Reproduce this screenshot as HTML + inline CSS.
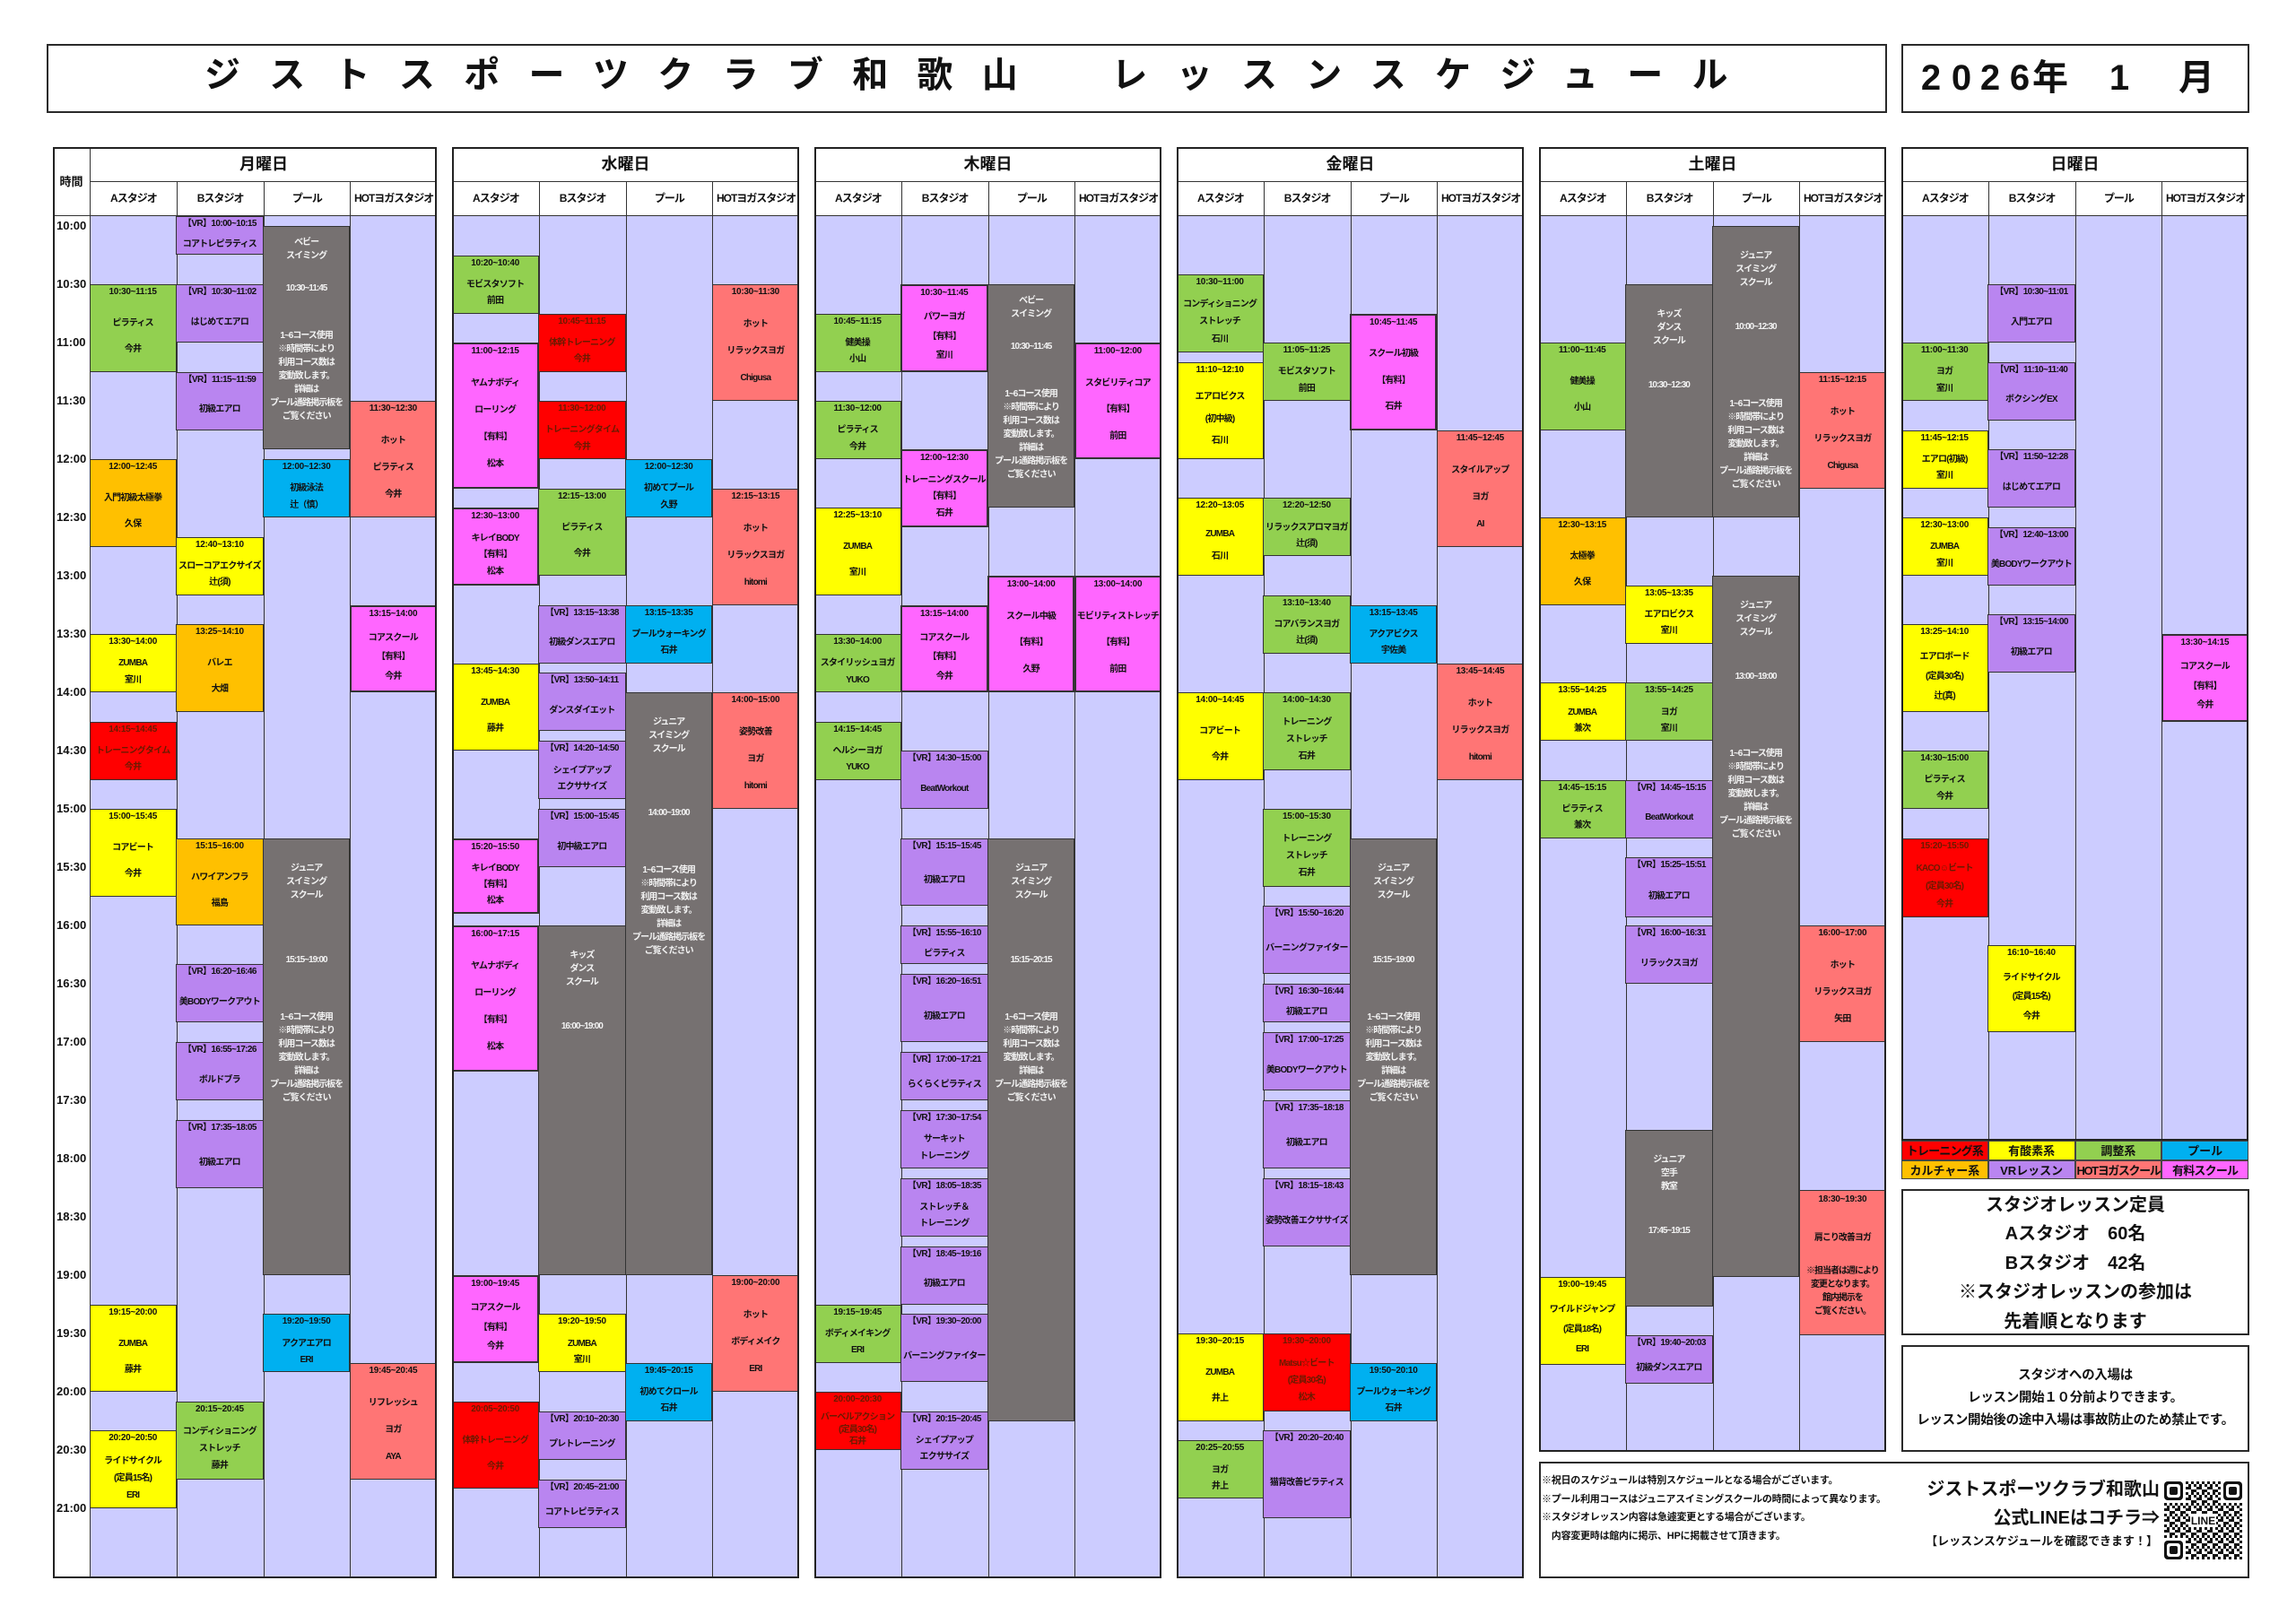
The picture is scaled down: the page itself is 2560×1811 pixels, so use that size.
<!DOCTYPE html>
<html lang="ja">
<head>
<meta charset="utf-8">
<style>
*{box-sizing:border-box}
html,body{margin:0;padding:0}
body{width:2560px;height:1811px;position:relative;overflow:hidden;background:#fff;font-family:"Liberation Sans","Noto Sans CJK JP",sans-serif;font-weight:bold;color:#111}
.abs{position:absolute}
.box{position:absolute;border:2px solid #2a2a2a;background:#fff}
.title{position:absolute;left:228px;top:46px;height:77px;line-height:77px;font-size:40px;letter-spacing:32.3px;white-space:nowrap}
.dc{position:absolute;top:62px;width:40px;text-align:center;font-size:40px;line-height:50px}
.day{position:absolute;top:164px}
.dn{position:absolute;top:0;height:39px;line-height:38px;text-align:center;font-size:18px;border-bottom:1.5px solid #333;background:#fff}
.sh{position:absolute;top:39px;width:96.75px;height:38px;line-height:37px;text-align:center;font-size:12px;letter-spacing:-1px;border-left:1.5px solid #333;border-bottom:1.5px solid #333;background:#fff;white-space:nowrap}
.c{position:absolute;top:77px;bottom:0;width:96.75px;background:#ccccff;border-left:1.5px solid #333}
.fr{position:absolute;left:0;top:0;right:0;bottom:0;border:2px solid #222;pointer-events:none}
.b{position:absolute;left:-1.5px;right:0;top:calc(var(--s) * 2.1667px + 11px);height:calc((var(--e) - var(--s)) * 2.1667px);border:1.5px solid #333;display:flex;flex-direction:column;align-items:center;overflow:hidden;font-size:10px;line-height:12px}
.b i{font-style:normal;padding-top:2px;letter-spacing:-0.3px;white-space:nowrap}
.b i.v{letter-spacing:-0.6px}
.b p{margin:0;flex:1;display:flex;flex-direction:column;justify-content:space-evenly;align-items:center;padding-top:6px;width:100%}
.b span{letter-spacing:-0.8px;white-space:nowrap}
.gl{position:absolute;left:0;right:0;text-align:center;line-height:15px;letter-spacing:-1px;white-space:nowrap}
.gr{background:#92d050}.ye{background:#ffff00}.or{background:#ffc000}.rd{background:#ff0000;color:#6a1a00}
.bl{background:#00b0f0}.sa{background:#ff7575}.mg{background:#ff66ff;border-width:2px}.pu{background:#b985f0}
.gy{background:#767171;color:#f2f2f2}
.tl{position:absolute;left:4px;font-family:"Liberation Sans",sans-serif;font-size:13px;line-height:16px}
.lg{position:absolute;height:21.5px;width:96.75px;line-height:21.5px;text-align:center;font-size:13px;border:1px solid #444;white-space:nowrap}
</style>
</head>
<body>

<!-- Title -->
<div class="box" style="left:52px;top:49px;width:2052px;height:77px"></div>
<div class="title">ジストスポーツクラブ和歌山　レッスンスケジュール</div>
<div class="box" style="left:2120px;top:49px;width:388px;height:77px"></div>
<div class="dc" style="left:2133px">2</div>
<div class="dc" style="left:2167px">0</div>
<div class="dc" style="left:2199px">2</div>
<div class="dc" style="left:2232px">6</div>
<div class="dc" style="left:2266px">年</div>
<div class="dc" style="left:2343px">1</div>
<div class="dc" style="left:2429px">月</div>

<!-- ============ MONDAY ============ -->
<div class="day" style="left:59px;width:428px;height:1596px">
  <div class="abs" style="left:0;top:0;width:41px;height:77px;line-height:77px;text-align:center;font-size:13px;border-bottom:1.5px solid #333;background:#fff">時間</div>
  <div class="dn" style="left:41px;width:387px;border-left:1.5px solid #333">月曜日</div>
  <div class="sh" style="left:41px">Aスタジオ</div>
  <div class="sh" style="left:137.75px">Bスタジオ</div>
  <div class="sh" style="left:234.5px">プール</div>
  <div class="sh" style="left:331.25px">HOTヨガスタジオ</div>
  <div class="tl" style="top:80px">10:00</div><div class="tl" style="top:145px">10:30</div>
  <div class="tl" style="top:210px">11:00</div><div class="tl" style="top:275px">11:30</div>
  <div class="tl" style="top:340px">12:00</div><div class="tl" style="top:405px">12:30</div>
  <div class="tl" style="top:470px">13:00</div><div class="tl" style="top:535px">13:30</div>
  <div class="tl" style="top:600px">14:00</div><div class="tl" style="top:665px">14:30</div>
  <div class="tl" style="top:730px">15:00</div><div class="tl" style="top:795px">15:30</div>
  <div class="tl" style="top:860px">16:00</div><div class="tl" style="top:925px">16:30</div>
  <div class="tl" style="top:990px">17:00</div><div class="tl" style="top:1055px">17:30</div>
  <div class="tl" style="top:1120px">18:00</div><div class="tl" style="top:1185px">18:30</div>
  <div class="tl" style="top:1250px">19:00</div><div class="tl" style="top:1315px">19:30</div>
  <div class="tl" style="top:1380px">20:00</div><div class="tl" style="top:1445px">20:30</div>
  <div class="tl" style="top:1510px">21:00</div>

  <div class="c" style="left:41px">
    <div class="b gr" style="--s:30;--e:75"><i>10:30~11:15</i><p><span>ピラティス</span><span>今井</span></p></div>
    <div class="b or" style="--s:120;--e:165"><i>12:00~12:45</i><p><span>入門初級太極拳</span><span>久保</span></p></div>
    <div class="b ye" style="--s:210;--e:240"><i>13:30~14:00</i><p><span>ZUMBA</span><span>室川</span></p></div>
    <div class="b rd" style="--s:255;--e:285"><i>14:15~14:45</i><p><span>トレーニングタイム</span><span>今井</span></p></div>
    <div class="b ye" style="--s:300;--e:345"><i>15:00~15:45</i><p><span>コアビート</span><span>今井</span></p></div>
    <div class="b ye" style="--s:555;--e:600"><i>19:15~20:00</i><p><span>ZUMBA</span><span>藤井</span></p></div>
    <div class="b ye" style="--s:620;--e:660"><i>20:20~20:50</i><p><span>ライドサイクル</span><span>(定員15名)</span><span>ERI</span></p></div>
  </div>
  <div class="c" style="left:137.75px">
    <div class="b pu" style="--s:-5;--e:15"><i class="v">【VR】10:00~10:15</i><p><span>コアトレピラティス</span></p></div>
    <div class="b pu" style="--s:30;--e:60"><i class="v">【VR】10:30~11:02</i><p><span>はじめてエアロ</span></p></div>
    <div class="b pu" style="--s:75;--e:105"><i class="v">【VR】11:15~11:59</i><p><span>初級エアロ</span></p></div>
    <div class="b ye" style="--s:160;--e:190"><i>12:40~13:10</i><p><span>スローコアエクサイズ</span><span>辻(須)</span></p></div>
    <div class="b or" style="--s:205;--e:250"><i>13:25~14:10</i><p><span>バレエ</span><span>大畑</span></p></div>
    <div class="b or" style="--s:315;--e:360"><i>15:15~16:00</i><p><span>ハワイアンフラ</span><span>福島</span></p></div>
    <div class="b pu" style="--s:380;--e:410"><i class="v">【VR】16:20~16:46</i><p><span>美BODYワークアウト</span></p></div>
    <div class="b pu" style="--s:420;--e:450"><i class="v">【VR】16:55~17:26</i><p><span>ボルドブラ</span></p></div>
    <div class="b pu" style="--s:460;--e:495"><i class="v">【VR】17:35~18:05</i><p><span>初級エアロ</span></p></div>
    <div class="b gr" style="--s:605;--e:645"><i>20:15~20:45</i><p><span>コンディショニング</span><span>ストレッチ</span><span>藤井</span></p></div>
  </div>
  <div class="c" style="left:234.5px">
    <div class="b gy" style="--s:0;--e:115"><div class="gl" style="top:10px">ベビー<br>スイミング</div><div class="gl" style="top:61px">10:30~11:45</div><div class="gl" style="top:114px">1~6コース使用<br>※時間帯により<br>利用コース数は<br>変動致します。<br>詳細は<br>プール通路掲示板を<br>ご覧ください</div></div>
    <div class="b bl" style="--s:120;--e:150"><i>12:00~12:30</i><p><span>初級泳法</span><span>辻（慎）</span></p></div>
    <div class="b gy" style="--s:315;--e:540"><div class="gl" style="top:25px">ジュニア<br>スイミング<br>スクール</div><div class="gl" style="top:127px">15:15~19:00</div><div class="gl" style="top:191px">1~6コース使用<br>※時間帯により<br>利用コース数は<br>変動致します。<br>詳細は<br>プール通路掲示板を<br>ご覧ください</div></div>
    <div class="b bl" style="--s:560;--e:590"><i>19:20~19:50</i><p><span>アクアエアロ</span><span>ERI</span></p></div>
  </div>
  <div class="c" style="left:331.25px">
    <div class="b sa" style="--s:90;--e:150"><i>11:30~12:30</i><p><span>ホット</span><span>ピラティス</span><span>今井</span></p></div>
    <div class="b mg" style="--s:195;--e:240"><i>13:15~14:00</i><p><span>コアスクール</span><span>【有料】</span><span>今井</span></p></div>
    <div class="b sa" style="--s:585;--e:645"><i>19:45~20:45</i><p><span>リフレッシュ</span><span>ヨガ</span><span>AYA</span></p></div>
  </div>
  <div class="fr"></div>
</div>

<!-- ============ WEDNESDAY ============ -->
<div class="day" style="left:504px;width:387px;height:1596px">
  <div class="dn" style="left:0;width:387px">水曜日</div>
  <div class="sh" style="left:0">Aスタジオ</div>
  <div class="sh" style="left:96.75px">Bスタジオ</div>
  <div class="sh" style="left:193.5px">プール</div>
  <div class="sh" style="left:290.25px">HOTヨガスタジオ</div>
  <div class="c" style="left:0">
    <div class="b gr" style="--s:15;--e:45"><i>10:20~10:40</i><p><span>モビスタソフト</span><span>前田</span></p></div>
    <div class="b mg" style="--s:60;--e:135"><i>11:00~12:15</i><p><span>ヤムナボディ</span><span>ローリング</span><span>【有料】</span><span>松本</span></p></div>
    <div class="b mg" style="--s:145;--e:185"><i>12:30~13:00</i><p><span>キレイBODY</span><span>【有料】</span><span>松本</span></p></div>
    <div class="b ye" style="--s:225;--e:270"><i>13:45~14:30</i><p><span>ZUMBA</span><span>藤井</span></p></div>
    <div class="b mg" style="--s:315;--e:354"><i>15:20~15:50</i><p><span>キレイBODY</span><span>【有料】</span><span>松本</span></p></div>
    <div class="b mg" style="--s:360;--e:435"><i>16:00~17:15</i><p><span>ヤムナボディ</span><span>ローリング</span><span>【有料】</span><span>松本</span></p></div>
    <div class="b mg" style="--s:540;--e:585"><i>19:00~19:45</i><p><span>コアスクール</span><span>【有料】</span><span>今井</span></p></div>
    <div class="b rd" style="--s:605;--e:650"><i>20:05~20:50</i><p><span>体幹トレーニング</span><span>今井</span></p></div>
  </div>
  <div class="c" style="left:96.75px">
    <div class="b rd" style="--s:45;--e:75"><i>10:45~11:15</i><p><span>体幹トレーニング</span><span>今井</span></p></div>
    <div class="b rd" style="--s:90;--e:120"><i>11:30~12:00</i><p><span>トレーニングタイム</span><span>今井</span></p></div>
    <div class="b gr" style="--s:135;--e:180"><i>12:15~13:00</i><p><span>ピラティス</span><span>今井</span></p></div>
    <div class="b pu" style="--s:195;--e:225"><i class="v">【VR】13:15~13:38</i><p><span>初級ダンスエアロ</span></p></div>
    <div class="b pu" style="--s:230;--e:260"><i class="v">【VR】13:50~14:11</i><p><span>ダンスダイエット</span></p></div>
    <div class="b pu" style="--s:265;--e:295"><i class="v">【VR】14:20~14:50</i><p><span>シェイプアップ</span><span>エクササイズ</span></p></div>
    <div class="b pu" style="--s:300;--e:330"><i class="v">【VR】15:00~15:45</i><p><span>初中級エアロ</span></p></div>
    <div class="b gy" style="--s:360;--e:540"><div class="gl" style="top:25px">キッズ<br>ダンス<br>スクール</div><div class="gl" style="top:104px">16:00~19:00</div></div>
    <div class="b ye" style="--s:560;--e:590"><i>19:20~19:50</i><p><span>ZUMBA</span><span>室川</span></p></div>
    <div class="b pu" style="--s:610;--e:635"><i class="v">【VR】20:10~20:30</i><p><span>プレトレーニング</span></p></div>
    <div class="b pu" style="--s:645;--e:670"><i class="v">【VR】20:45~21:00</i><p><span>コアトレピラティス</span></p></div>
  </div>
  <div class="c" style="left:193.5px">
    <div class="b bl" style="--s:120;--e:150"><i>12:00~12:30</i><p><span>初めてプール</span><span>久野</span></p></div>
    <div class="b bl" style="--s:195;--e:225"><i>13:15~13:35</i><p><span>プールウォーキング</span><span>石井</span></p></div>
    <div class="b gy" style="--s:240;--e:540"><div class="gl" style="top:25px">ジュニア<br>スイミング<br>スクール</div><div class="gl" style="top:126px">14:00~19:00</div><div class="gl" style="top:190px">1~6コース使用<br>※時間帯により<br>利用コース数は<br>変動致します。<br>詳細は<br>プール通路掲示板を<br>ご覧ください</div></div>
    <div class="b bl" style="--s:585;--e:615"><i>19:45~20:15</i><p><span>初めてクロール</span><span>石井</span></p></div>
  </div>
  <div class="c" style="left:290.25px">
    <div class="b sa" style="--s:30;--e:90"><i>10:30~11:30</i><p><span>ホット</span><span>リラックスヨガ</span><span>Chigusa</span></p></div>
    <div class="b sa" style="--s:135;--e:195"><i>12:15~13:15</i><p><span>ホット</span><span>リラックスヨガ</span><span>hitomi</span></p></div>
    <div class="b sa" style="--s:240;--e:300"><i>14:00~15:00</i><p><span>姿勢改善</span><span>ヨガ</span><span>hitomi</span></p></div>
    <div class="b sa" style="--s:540;--e:600"><i>19:00~20:00</i><p><span>ホット</span><span>ボディメイク</span><span>ERI</span></p></div>
  </div>
  <div class="fr"></div>
</div>

<!-- ============ THURSDAY ============ -->
<div class="day" style="left:908px;width:387px;height:1596px">
  <div class="dn" style="left:0;width:387px">木曜日</div>
  <div class="sh" style="left:0">Aスタジオ</div>
  <div class="sh" style="left:96.75px">Bスタジオ</div>
  <div class="sh" style="left:193.5px">プール</div>
  <div class="sh" style="left:290.25px">HOTヨガスタジオ</div>
  <div class="c" style="left:0">
    <div class="b gr" style="--s:45;--e:75"><i>10:45~11:15</i><p><span>健美操</span><span>小山</span></p></div>
    <div class="b gr" style="--s:90;--e:120"><i>11:30~12:00</i><p><span>ピラティス</span><span>今井</span></p></div>
    <div class="b ye" style="--s:145;--e:190"><i>12:25~13:10</i><p><span>ZUMBA</span><span>室川</span></p></div>
    <div class="b gr" style="--s:210;--e:240"><i>13:30~14:00</i><p><span>スタイリッシュヨガ</span><span>YUKO</span></p></div>
    <div class="b gr" style="--s:255;--e:285"><i>14:15~14:45</i><p><span>ヘルシーヨガ</span><span>YUKO</span></p></div>
    <div class="b gr" style="--s:555;--e:585"><i>19:15~19:45</i><p><span>ボディメイキング</span><span>ERI</span></p></div>
    <div class="b rd" style="--s:600;--e:630"><i>20:00~20:30</i><p><span>バーベルアクション</span><span>(定員30名)</span><span>石井</span></p></div>
  </div>
  <div class="c" style="left:96.75px">
    <div class="b mg" style="--s:30;--e:75"><i>10:30~11:45</i><p><span>パワーヨガ</span><span>【有料】</span><span>室川</span></p></div>
    <div class="b mg" style="--s:115;--e:155"><i>12:00~12:30</i><p><span>トレーニングスクール</span><span>【有料】</span><span>石井</span></p></div>
    <div class="b mg" style="--s:195;--e:240"><i>13:15~14:00</i><p><span>コアスクール</span><span>【有料】</span><span>今井</span></p></div>
    <div class="b pu" style="--s:270;--e:300"><i class="v">【VR】14:30~15:00</i><p><span>BeatWorkout</span></p></div>
    <div class="b pu" style="--s:315;--e:350"><i class="v">【VR】15:15~15:45</i><p><span>初級エアロ</span></p></div>
    <div class="b pu" style="--s:360;--e:380"><i class="v">【VR】15:55~16:10</i><p><span>ピラティス</span></p></div>
    <div class="b pu" style="--s:385;--e:420"><i class="v">【VR】16:20~16:51</i><p><span>初級エアロ</span></p></div>
    <div class="b pu" style="--s:425;--e:450"><i class="v">【VR】17:00~17:21</i><p><span>らくらくピラティス</span></p></div>
    <div class="b pu" style="--s:455;--e:485"><i class="v">【VR】17:30~17:54</i><p><span>サーキット</span><span>トレーニング</span></p></div>
    <div class="b pu" style="--s:490;--e:520"><i class="v">【VR】18:05~18:35</i><p><span>ストレッチ＆</span><span>トレーニング</span></p></div>
    <div class="b pu" style="--s:525;--e:555"><i class="v">【VR】18:45~19:16</i><p><span>初級エアロ</span></p></div>
    <div class="b pu" style="--s:560;--e:595"><i class="v">【VR】19:30~20:00</i><p><span>バーニングファイター</span></p></div>
    <div class="b pu" style="--s:610;--e:640"><i class="v">【VR】20:15~20:45</i><p><span>シェイプアップ</span><span>エクササイズ</span></p></div>
  </div>
  <div class="c" style="left:193.5px">
    <div class="b gy" style="--s:30;--e:145"><div class="gl" style="top:10px">ベビー<br>スイミング</div><div class="gl" style="top:61px">10:30~11:45</div><div class="gl" style="top:114px">1~6コース使用<br>※時間帯により<br>利用コース数は<br>変動致します。<br>詳細は<br>プール通路掲示板を<br>ご覧ください</div></div>
    <div class="b mg" style="--s:180;--e:240"><i>13:00~14:00</i><p><span>スクール中級</span><span>【有料】</span><span>久野</span></p></div>
    <div class="b gy" style="--s:315;--e:615"><div class="gl" style="top:25px">ジュニア<br>スイミング<br>スクール</div><div class="gl" style="top:127px">15:15~20:15</div><div class="gl" style="top:191px">1~6コース使用<br>※時間帯により<br>利用コース数は<br>変動致します。<br>詳細は<br>プール通路掲示板を<br>ご覧ください</div></div>
  </div>
  <div class="c" style="left:290.25px">
    <div class="b mg" style="--s:60;--e:120"><i>11:00~12:00</i><p><span>スタビリティコア</span><span>【有料】</span><span>前田</span></p></div>
    <div class="b mg" style="--s:180;--e:240"><i>13:00~14:00</i><p><span>モビリティストレッチ</span><span>【有料】</span><span>前田</span></p></div>
  </div>
  <div class="fr"></div>
</div>

<!-- ============ FRIDAY ============ -->
<div class="day" style="left:1312px;width:387px;height:1596px">
  <div class="dn" style="left:0;width:387px">金曜日</div>
  <div class="sh" style="left:0">Aスタジオ</div>
  <div class="sh" style="left:96.75px">Bスタジオ</div>
  <div class="sh" style="left:193.5px">プール</div>
  <div class="sh" style="left:290.25px">HOTヨガスタジオ</div>
  <div class="c" style="left:0">
    <div class="b gr" style="--s:25;--e:65"><i>10:30~11:00</i><p><span>コンディショニング</span><span>ストレッチ</span><span>石川</span></p></div>
    <div class="b ye" style="--s:70;--e:120"><i>11:10~12:10</i><p><span>エアロビクス</span><span>(初中級)</span><span>石川</span></p></div>
    <div class="b ye" style="--s:140;--e:180"><i>12:20~13:05</i><p><span>ZUMBA</span><span>石川</span></p></div>
    <div class="b ye" style="--s:240;--e:285"><i>14:00~14:45</i><p><span>コアビート</span><span>今井</span></p></div>
    <div class="b ye" style="--s:570;--e:615"><i>19:30~20:15</i><p><span>ZUMBA</span><span>井上</span></p></div>
    <div class="b gr" style="--s:625;--e:655"><i>20:25~20:55</i><p><span>ヨガ</span><span>井上</span></p></div>
  </div>
  <div class="c" style="left:96.75px">
    <div class="b gr" style="--s:60;--e:90"><i>11:05~11:25</i><p><span>モビスタソフト</span><span>前田</span></p></div>
    <div class="b gr" style="--s:140;--e:170"><i>12:20~12:50</i><p><span>リラックスアロマヨガ</span><span>辻(須)</span></p></div>
    <div class="b gr" style="--s:190;--e:220"><i>13:10~13:40</i><p><span>コアバランスヨガ</span><span>辻(須)</span></p></div>
    <div class="b gr" style="--s:240;--e:280"><i>14:00~14:30</i><p><span>トレーニング</span><span>ストレッチ</span><span>石井</span></p></div>
    <div class="b gr" style="--s:300;--e:340"><i>15:00~15:30</i><p><span>トレーニング</span><span>ストレッチ</span><span>石井</span></p></div>
    <div class="b pu" style="--s:350;--e:385"><i class="v">【VR】15:50~16:20</i><p><span>バーニングファイター</span></p></div>
    <div class="b pu" style="--s:390;--e:410"><i class="v">【VR】16:30~16:44</i><p><span>初級エアロ</span></p></div>
    <div class="b pu" style="--s:415;--e:445"><i class="v">【VR】17:00~17:25</i><p><span>美BODYワークアウト</span></p></div>
    <div class="b pu" style="--s:450;--e:485"><i class="v">【VR】17:35~18:18</i><p><span>初級エアロ</span></p></div>
    <div class="b pu" style="--s:490;--e:525"><i class="v">【VR】18:15~18:43</i><p><span>姿勢改善エクササイズ</span></p></div>
    <div class="b rd" style="--s:570;--e:610"><i>19:30~20:00</i><p><span>Matsu☆ビート</span><span>(定員30名)</span><span>松木</span></p></div>
    <div class="b pu" style="--s:620;--e:665"><i class="v">【VR】20:20~20:40</i><p><span>猫背改善ピラティス</span></p></div>
  </div>
  <div class="c" style="left:193.5px">
    <div class="b mg" style="--s:45;--e:105"><i>10:45~11:45</i><p><span>スクール初級</span><span>【有料】</span><span>石井</span></p></div>
    <div class="b bl" style="--s:195;--e:225"><i>13:15~13:45</i><p><span>アクアビクス</span><span>宇佐美</span></p></div>
    <div class="b gy" style="--s:315;--e:540"><div class="gl" style="top:25px">ジュニア<br>スイミング<br>スクール</div><div class="gl" style="top:127px">15:15~19:00</div><div class="gl" style="top:191px">1~6コース使用<br>※時間帯により<br>利用コース数は<br>変動致します。<br>詳細は<br>プール通路掲示板を<br>ご覧ください</div></div>
    <div class="b bl" style="--s:585;--e:615"><i>19:50~20:10</i><p><span>プールウォーキング</span><span>石井</span></p></div>
  </div>
  <div class="c" style="left:290.25px">
    <div class="b sa" style="--s:105;--e:165"><i>11:45~12:45</i><p><span>スタイルアップ</span><span>ヨガ</span><span>AI</span></p></div>
    <div class="b sa" style="--s:225;--e:285"><i>13:45~14:45</i><p><span>ホット</span><span>リラックスヨガ</span><span>hitomi</span></p></div>
  </div>
  <div class="fr"></div>
</div>

<!-- ============ SATURDAY ============ -->
<div class="day" style="left:1716px;width:387px;height:1455px">
  <div class="dn" style="left:0;width:387px">土曜日</div>
  <div class="sh" style="left:0">Aスタジオ</div>
  <div class="sh" style="left:96.75px">Bスタジオ</div>
  <div class="sh" style="left:193.5px">プール</div>
  <div class="sh" style="left:290.25px">HOTヨガスタジオ</div>
  <div class="c" style="left:0">
    <div class="b gr" style="--s:60;--e:105"><i>11:00~11:45</i><p><span>健美操</span><span>小山</span></p></div>
    <div class="b or" style="--s:150;--e:195"><i>12:30~13:15</i><p><span>太極拳</span><span>久保</span></p></div>
    <div class="b ye" style="--s:235;--e:265"><i>13:55~14:25</i><p><span>ZUMBA</span><span>兼次</span></p></div>
    <div class="b gr" style="--s:285;--e:315"><i>14:45~15:15</i><p><span>ピラティス</span><span>兼次</span></p></div>
    <div class="b ye" style="--s:541;--e:586"><i>19:00~19:45</i><p><span>ワイルドジャンプ</span><span>(定員18名)</span><span>ERI</span></p></div>
  </div>
  <div class="c" style="left:96.75px">
    <div class="b gy" style="--s:30;--e:150"><div class="gl" style="top:25px">キッズ<br>ダンス<br>スクール</div><div class="gl" style="top:104px">10:30~12:30</div></div>
    <div class="b ye" style="--s:185;--e:215"><i>13:05~13:35</i><p><span>エアロビクス</span><span>室川</span></p></div>
    <div class="b gr" style="--s:235;--e:265"><i>13:55~14:25</i><p><span>ヨガ</span><span>室川</span></p></div>
    <div class="b pu" style="--s:285;--e:315"><i class="v">【VR】14:45~15:15</i><p><span>BeatWorkout</span></p></div>
    <div class="b pu" style="--s:325;--e:356"><i class="v">【VR】15:25~15:51</i><p><span>初級エアロ</span></p></div>
    <div class="b pu" style="--s:360;--e:390"><i class="v">【VR】16:00~16:31</i><p><span>リラックスヨガ</span></p></div>
    <div class="b gy" style="--s:465;--e:556"><div class="gl" style="top:25px">ジュニア<br>空手<br>教室</div><div class="gl" style="top:104px">17:45~19:15</div></div>
    <div class="b pu" style="--s:571;--e:596"><i class="v">【VR】19:40~20:03</i><p><span>初級ダンスエアロ</span></p></div>
  </div>
  <div class="c" style="left:193.5px">
    <div class="b gy" style="--s:0;--e:150"><div class="gl" style="top:25px">ジュニア<br>スイミング<br>スクール</div><div class="gl" style="top:104px">10:00~12:30</div><div class="gl" style="top:190px">1~6コース使用<br>※時間帯により<br>利用コース数は<br>変動致します。<br>詳細は<br>プール通路掲示板を<br>ご覧ください</div></div>
    <div class="b gy" style="--s:180;--e:541"><div class="gl" style="top:25px">ジュニア<br>スイミング<br>スクール</div><div class="gl" style="top:104px">13:00~19:00</div><div class="gl" style="top:190px">1~6コース使用<br>※時間帯により<br>利用コース数は<br>変動致します。<br>詳細は<br>プール通路掲示板を<br>ご覧ください</div></div>
  </div>
  <div class="c" style="left:290.25px">
    <div class="b sa" style="--s:75;--e:135"><i>11:15~12:15</i><p><span>ホット</span><span>リラックスヨガ</span><span>Chigusa</span></p></div>
    <div class="b sa" style="--s:360;--e:420"><i>16:00~17:00</i><p><span>ホット</span><span>リラックスヨガ</span><span>矢田</span></p></div>
    <div class="b sa" style="--s:496;--e:571"><div class="gl" style="top:2px;letter-spacing:-0.3px">18:30~19:30</div><div class="gl" style="top:45px">肩こり改善ヨガ</div><div class="gl" style="top:82px">※担当者は週により<br>変更となります。<br>館内掲示を<br>ご覧ください。</div></div>
  </div>
  <div class="fr"></div>
</div>

<!-- ============ SUNDAY ============ -->
<div class="day" style="left:2120px;width:387px;height:1108px">
  <div class="dn" style="left:0;width:387px">日曜日</div>
  <div class="sh" style="left:0">Aスタジオ</div>
  <div class="sh" style="left:96.75px">Bスタジオ</div>
  <div class="sh" style="left:193.5px">プール</div>
  <div class="sh" style="left:290.25px">HOTヨガスタジオ</div>
  <div class="c" style="left:0">
    <div class="b gr" style="--s:60;--e:90"><i>11:00~11:30</i><p><span>ヨガ</span><span>室川</span></p></div>
    <div class="b ye" style="--s:105;--e:135"><i>11:45~12:15</i><p><span>エアロ(初級)</span><span>室川</span></p></div>
    <div class="b ye" style="--s:150;--e:180"><i>12:30~13:00</i><p><span>ZUMBA</span><span>室川</span></p></div>
    <div class="b ye" style="--s:205;--e:250"><i>13:25~14:10</i><p><span>エアロボード</span><span>(定員30名)</span><span>辻(真)</span></p></div>
    <div class="b gr" style="--s:270;--e:300"><i>14:30~15:00</i><p><span>ピラティス</span><span>今井</span></p></div>
    <div class="b rd" style="--s:315;--e:356"><i>15:20~15:50</i><p><span>KACO☺ビート</span><span>(定員30名)</span><span>今井</span></p></div>
  </div>
  <div class="c" style="left:96.75px">
    <div class="b pu" style="--s:30;--e:60"><i class="v">【VR】10:30~11:01</i><p><span>入門エアロ</span></p></div>
    <div class="b pu" style="--s:70;--e:100"><i class="v">【VR】11:10~11:40</i><p><span>ボクシングEX</span></p></div>
    <div class="b pu" style="--s:115;--e:145"><i class="v">【VR】11:50~12:28</i><p><span>はじめてエアロ</span></p></div>
    <div class="b pu" style="--s:155;--e:185"><i class="v">【VR】12:40~13:00</i><p><span>美BODYワークアウト</span></p></div>
    <div class="b pu" style="--s:200;--e:230"><i class="v">【VR】13:15~14:00</i><p><span>初級エアロ</span></p></div>
    <div class="b ye" style="--s:370;--e:415"><i>16:10~16:40</i><p><span>ライドサイクル</span><span>(定員15名)</span><span>今井</span></p></div>
  </div>
  <div class="c" style="left:193.5px"></div>
  <div class="c" style="left:290.25px">
    <div class="b mg" style="--s:210;--e:255"><i>13:30~14:15</i><p><span>コアスクール</span><span>【有料】</span><span>今井</span></p></div>
  </div>
  <div class="fr"></div>
</div>

<!-- Legend -->
<div class="lg" style="left:2120px;top:1272px;background:#ff0000;letter-spacing:-0.8px">トレーニング系</div>
<div class="lg" style="left:2216.75px;top:1272px;background:#ffff00">有酸素系</div>
<div class="lg" style="left:2313.5px;top:1272px;background:#92d050">調整系</div>
<div class="lg" style="left:2410.25px;top:1272px;background:#00b0f0">プール</div>
<div class="lg" style="left:2120px;top:1293.5px;background:#ffc000">カルチャー系</div>
<div class="lg" style="left:2216.75px;top:1293.5px;background:#b985f0">VRレッスン</div>
<div class="lg" style="left:2313.5px;top:1293.5px;background:#ff7575;letter-spacing:-1.4px">HOTヨガスクール</div>
<div class="lg" style="left:2410.25px;top:1293.5px;background:#ff66ff;letter-spacing:-0.8px">有料スクール</div>

<!-- Capacity box -->
<div class="box" style="left:2120px;top:1326px;width:388px;height:163px;text-align:center;font-size:20px;line-height:32.4px;padding-top:0">
スタジオレッスン定員<br>Aスタジオ　60名<br>Bスタジオ　42名<br>※スタジオレッスンの参加は<br>先着順となります
</div>

<!-- Entry box -->
<div class="box" style="left:2120px;top:1500px;width:388px;height:119px;text-align:center;font-size:14.5px;line-height:25px;padding-top:20px;letter-spacing:-0.3px;white-space:nowrap">
スタジオへの入場は<br>レッスン開始１０分前よりできます。<br>レッスン開始後の途中入場は事故防止のため禁止です。
</div>

<!-- Notes box -->
<div class="box" style="left:1716px;top:1630px;width:792px;height:130px"></div>
<div class="abs" style="left:1719px;top:1641px;font-size:11px;line-height:20.5px;letter-spacing:-0.25px;white-space:nowrap">
※祝日のスケジュールは特別スケジュールとなる場合がございます。<br>
※プール利用コースはジュニアスイミングスクールの時間によって異なります。<br>
※スタジオレッスン内容は急遽変更とする場合がございます。<br>
　内容変更時は館内に掲示、HPに掲載させて頂きます。
</div>
<div class="abs" style="left:2100px;width:308px;top:1647px;text-align:right;font-size:20px;line-height:28px;white-space:nowrap">ジストスポーツクラブ和歌山</div>
<div class="abs" style="left:2100px;width:308px;top:1679px;text-align:right;font-size:20px;line-height:28px;white-space:nowrap">公式LINEはコチラ⇒</div>
<div class="abs" style="left:2100px;width:306px;top:1710px;text-align:right;font-size:13px;line-height:18px;white-space:nowrap">【レッスンスケジュールを確認できます！】</div>

<!-- QR code -->
<svg class="abs" style="left:2413px;top:1652px" width="87" height="87" viewBox="0 0 87 87">
  <defs>
    <pattern id="qp" width="12" height="12" patternUnits="userSpaceOnUse">
      <rect x="0" y="0" width="3" height="3" fill="#111"/>
      <rect x="6" y="0" width="3" height="3" fill="#111"/>
      <rect x="3" y="3" width="3" height="3" fill="#111"/>
      <rect x="9" y="3" width="3" height="3" fill="#111"/>
      <rect x="0" y="6" width="3" height="3" fill="#111"/>
      <rect x="3" y="6" width="3" height="3" fill="#111"/>
      <rect x="9" y="9" width="3" height="3" fill="#111"/>
      <rect x="6" y="9" width="3" height="3" fill="#111"/>
    </pattern>
  </defs>
  <rect width="87" height="87" fill="#fff"/>
  <rect width="87" height="87" fill="url(#qp)"/>
  <g>
    <rect x="0" y="0" width="24" height="24" fill="#fff"/>
    <rect x="0" y="0" width="21" height="21" rx="4" fill="#111"/>
    <rect x="3" y="3" width="15" height="15" rx="3" fill="#fff"/>
    <rect x="6" y="6" width="9" height="9" rx="2" fill="#111"/>
    <rect x="63" y="0" width="24" height="24" fill="#fff"/>
    <rect x="66" y="0" width="21" height="21" rx="4" fill="#111"/>
    <rect x="69" y="3" width="15" height="15" rx="3" fill="#fff"/>
    <rect x="72" y="6" width="9" height="9" rx="2" fill="#111"/>
    <rect x="0" y="63" width="24" height="24" fill="#fff"/>
    <rect x="0" y="66" width="21" height="21" rx="4" fill="#111"/>
    <rect x="3" y="69" width="15" height="15" rx="3" fill="#fff"/>
    <rect x="6" y="72" width="9" height="9" rx="2" fill="#111"/>
    <rect x="29" y="36" width="29" height="15" fill="#fff"/>
    <text x="43.5" y="48" text-anchor="middle" font-family="Liberation Sans, sans-serif" font-weight="bold" font-size="12" fill="#111">LINE</text>
  </g>
</svg>

</body>
</html>
